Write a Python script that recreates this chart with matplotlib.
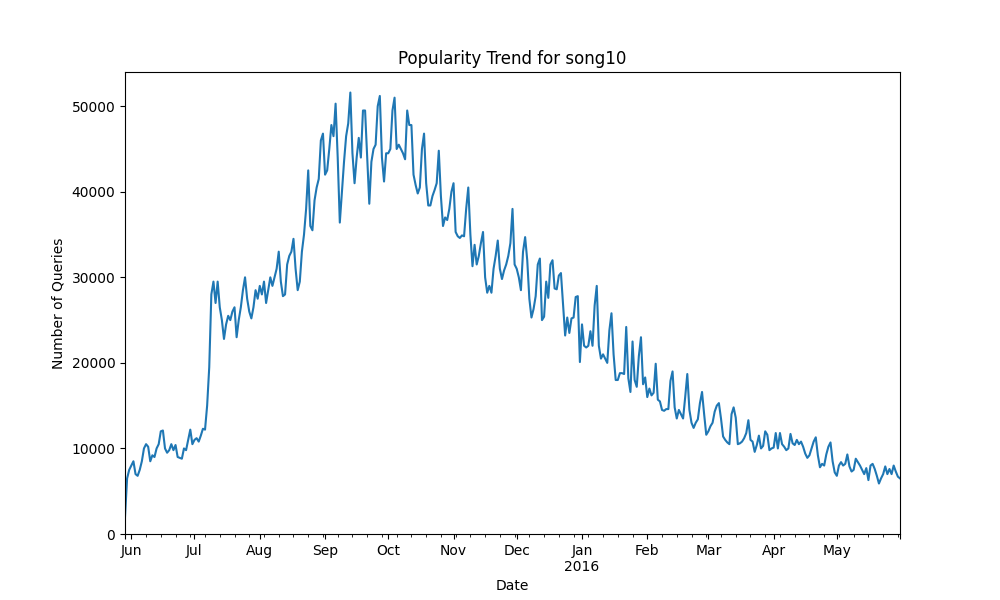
import matplotlib
matplotlib.use("Agg")
import matplotlib.pyplot as plt
import pandas as pd

start_date = "2015-05-29"

may15 = [2000, 6500, 7500]
jun = [8000, 8500, 7000, 6800, 7500, 8500, 10000, 10500, 10200, 8500, 9200, 9000, 10000, 10500, 12000,
       12100, 10000, 9500, 9800, 10500, 9800, 10400, 9000, 8900, 8800, 10000, 9800, 11000, 12200, 10500]
jul = [11000, 11200, 10800, 11500, 12300, 12200, 15000, 19500, 28000, 29500, 27000, 29500, 26500, 25000, 22800,
       24500, 25500, 25000, 26000, 26500, 23000, 25000, 26500, 28500, 30000, 27500, 26000, 25200, 26500, 28500, 27500]
aug = [29000, 28000, 29500, 27000, 28500, 30000, 29000, 30000, 31000, 33000, 29500, 27800, 28000, 31500, 32500,
       33000, 34500, 31000, 28500, 29500, 33000, 35000, 38000, 42500, 36000, 35500, 39000, 40500, 41500, 46000, 46800]
sep = [42000, 42500, 45000, 47800, 46500, 50300, 44000, 36400, 40000, 43500, 46500, 48000, 51600, 44500, 41000,
       44000, 46300, 44000, 49500, 49500, 44000, 38600, 43500, 45000, 45500, 50000, 51200, 44000, 41200, 44500]
oct_ = [44500, 45000, 49500, 51000, 45000, 45500, 45000, 44500, 43800, 49500, 47800, 47800, 42000, 40800, 39800,
        40500, 45000, 46800, 41000, 38400, 38400, 39500, 40200, 41000, 44800, 39500, 36000, 37000, 36700, 38000, 40000]
nov = [41000, 35300, 34800, 34600, 34900, 34800, 38000, 40500, 35000, 31300, 33800, 31500, 32500, 34000, 35300,
       30000, 28200, 29000, 28200, 31000, 32500, 34300, 31000, 29800, 30800, 31500, 32500, 34000, 38000, 31500]
dec = [31000, 30000, 28500, 33000, 34700, 32000, 27500, 25300, 26300, 27800, 31500, 32200, 25000, 25400, 29500,
       27600, 31500, 32000, 28700, 28600, 30200, 30500, 26800, 23200, 25300, 23500, 25200, 25300, 27700, 27800, 20100]
jan = [24500, 22000, 21800, 22000, 23700, 22000, 26700, 29000, 22000, 20500, 21000, 20500, 20000, 23800, 25800,
       21000, 18000, 18000, 18800, 18800, 18700, 24200, 18200, 16600, 22500, 18000, 17200, 20800, 23000, 17500, 18300]
feb = [16000, 17000, 16200, 16500, 19900, 15700, 15500, 14500, 14400, 14600, 14600, 17900, 19000, 14800, 13500,
       14500, 14000, 13500, 16000, 18700, 14500, 13000, 12400, 13000, 13400, 15300, 16600, 14000, 11600]
mar = [12000, 12600, 13000, 14300, 15000, 15300, 13500, 11400, 11000, 10700, 10500, 14000, 14800, 13600, 10500,
       10600, 10800, 11200, 11800, 13300, 11000, 10800, 9600, 10400, 11500, 10000, 10300, 12000, 11600, 9800, 10000]
apr = [10100, 11800, 10000, 11800, 10500, 10200, 9800, 10000, 11700, 10600, 10400, 11000, 10500, 10800, 10200,
       9400, 8900, 9200, 10000, 10800, 11300, 9200, 7800, 8200, 8000, 9300, 10200, 10700, 8500, 7200]
may16 = [6800, 8000, 8400, 8000, 8200, 9300, 7900, 7300, 7500, 8800, 8400, 8000, 7500, 7000, 7700,
         6300, 8000, 8200, 7600, 6800, 5900, 6500, 7000, 7900, 7000, 7600, 7000, 8000, 7300, 6700, 6500]

values = may15 + jun + jul + aug + sep + oct_ + nov + dec + jan + feb + mar + apr + may16
dates = pd.date_range(start_date, periods=len(values), freq="D")
series = pd.Series(values, index=dates)

fig, ax = plt.subplots(figsize=(10, 6), dpi=100)
series.plot(ax=ax, color="#1f77b4")
ax.set_ylim(0, 54000)
ax.set_title("Popularity Trend for song10")
ax.set_xlabel("Date")
ax.set_ylabel("Number of Queries")
fig.savefig("out.png")
